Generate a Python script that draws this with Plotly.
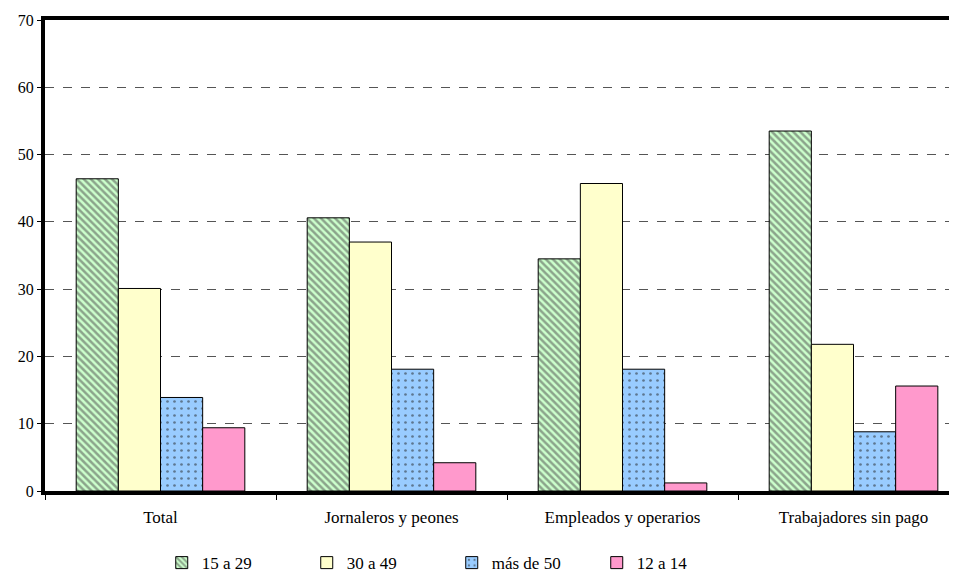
import plotly.graph_objects as go

categorias = ['Total', 'Jornaleros y peones', 'Empleados y operarios', 'Trabajadores sin pago']
series = ['15 a 29', '30 a 49', 'más de 50', '12 a 14']
v_15_29 = [46.4, 40.6, 34.5, 53.5]
v_30_49 = [30.1, 37.0, 45.7, 21.8]
v_mas_50 = [13.9, 18.1, 18.1, 8.8]
v_12_14 = [9.4, 4.2, 1.2, 15.6]
valores = [v_15_29, v_30_49, v_mas_50, v_12_14]
y_ticks = [0, 10, 20, 30, 40, 50, 60, 70]

colores = ['#ccffcc', '#ffffcc', '#99ccff', '#ff99cc']
patrones = [
    dict(shape='\\', fgcolor='#4a4a4a', size=5, solidity=0.5),
    dict(shape=''),
    dict(shape='.', fgcolor='#222222', size=7, solidity=0.12),
    dict(shape=''),
]

fig = go.Figure()
for nombre, vals, col, pat in zip(series, valores, colores, patrones):
    fig.add_trace(go.Bar(
        x=categorias, y=vals, name=nombre,
        marker=dict(color=col, line=dict(color='black', width=1), pattern=pat),
    ))

# the page adds ~8px of body margin, so the figure is 8px smaller than the window
fig.update_layout(
    width=949, height=565,
    barmode='group', bargap=0.27, bargroupgap=0,
    plot_bgcolor='white', paper_bgcolor='white',
    font=dict(family='Times New Roman', color='black', size=17),
    margin=dict(l=37, r=0, t=12, b=82, autoexpand=False),
    xaxis=dict(
        range=[-0.5, 3.448], showline=True, linecolor='black', linewidth=4, mirror=True,
        ticks='outside', tickson='boundaries', ticklen=5, tickcolor='black',
        tickfont=dict(size=17), showgrid=False, automargin=False, ticklabelstandoff=8,
    ),
    yaxis=dict(
        range=[0, 70], tickvals=y_ticks, showline=True, linecolor='black', linewidth=4,
        ticks='outside', ticklen=4, tickcolor='black', tickfont=dict(size=16),
        showgrid=True, gridcolor='#555555', griddash='dash', gridwidth=1, zeroline=False,
        automargin=False,
    ),
    legend=dict(
        orientation='h', x=0.128, xanchor='left', y=-0.153, yanchor='middle',
        entrywidth=100, entrywidthmode='pixels', itemwidth=30,
        font=dict(size=17), traceorder='normal',
    ),
)

fig.write_html('out.html')
